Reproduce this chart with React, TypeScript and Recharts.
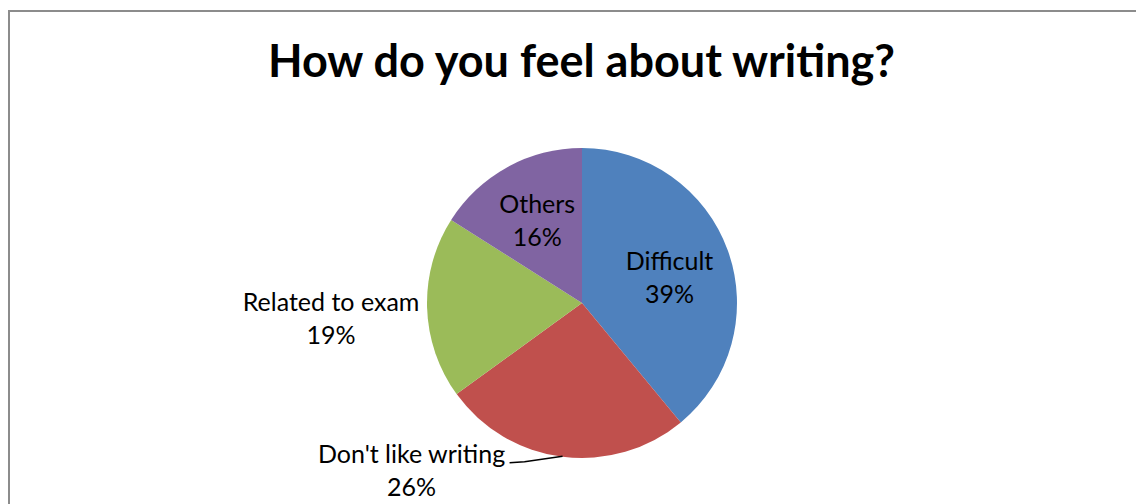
import React from 'react';
import { PieChart, Pie, Cell } from 'recharts';

const categories = ['Difficult', "Don't like writing", 'Related to exam', 'Others'];
const shares = [39, 26, 19, 16];
const sliceColors = ['#4F81BD', '#C0504D', '#9BBB59', '#8064A2'];

const chartData = categories.map((name, i) => ({ name, value: shares[i] }));

const RADIAN = Math.PI / 180;
const FONT = 'Lato, "Open Sans", sans-serif';

// where each label block sits, relative to the point on its slice's mid-angle
const labelPlacement: Record<string, { radius: number; dx: number; dy: number; leader?: boolean }> = {
  Difficult: { radius: 0.6, dx: 0, dy: 7 },
  Others: { radius: 0.6, dx: 0, dy: 0 },
  'Related to exam': { radius: 1, dx: -96, dy: 12 },
  "Don't like writing": { radius: 1, dx: -151, dy: 15, leader: true },
};

const renderLabel = (props: any) => {
  const { cx, cy, midAngle, outerRadius, percent } = props;
  const name = props.name ?? props.payload?.name;
  const p = labelPlacement[name];
  const r = outerRadius * p.radius;
  const ax = cx + r * Math.cos(-midAngle * RADIAN);
  const ay = cy + r * Math.sin(-midAngle * RADIAN);
  const bx = ax + p.dx;
  const by = ay + p.dy;
  return (
    <g>
      {p.leader && (
        <polyline
          points={`${ax},${ay - 0.5} ${ax - 38},${ay + 5} ${ax - 53},${ay + 6}`}
          fill="none"
          stroke="#000"
          strokeWidth={1.5}
        />
      )}
      <text textAnchor="middle" fill="#000" fontSize={25} fontFamily={FONT}>
        <tspan x={bx} y={by - 8.5}>{name}</tspan>
        <tspan x={bx} y={by + 24.5}>{`${Math.round(percent * 100)}%`}</tspan>
      </text>
    </g>
  );
};

export default function App() {
  return (
    <>
      <style>{'html,body{overflow:hidden}'}</style>
      <div
        style={{
          position: 'relative',
          marginTop: 2,
          width: 1200,
          height: 492,
          borderLeft: '2px solid #8c8c8c',
          borderTop: '2px solid #8c8c8c',
          background: '#fff',
        }}
      >
        <PieChart width={1134} height={492} margin={{ top: 0, right: 0, bottom: 0, left: 0 }}>
          <Pie
            data={chartData}
            dataKey="value"
            nameKey="name"
            cx={572}
            cy={291}
            outerRadius={155}
            startAngle={90}
            endAngle={-270}
            stroke="none"
            label={renderLabel}
            labelLine={false}
            isAnimationActive={false}
          >
            {chartData.map((d, i) => (
              <Cell key={d.name} fill={sliceColors[i]} />
            ))}
          </Pie>
        </PieChart>
        <svg
          width={1134}
          height={100}
          style={{ position: 'absolute', left: 0, top: 0, pointerEvents: 'none' }}
        >
          <text x={571.5} y={64.7} textAnchor="middle" fontSize={45} fontWeight="bold" fontFamily={FONT} fill="#000">
            How do you feel about writing?
          </text>
        </svg>
      </div>
    </>
  );
}
